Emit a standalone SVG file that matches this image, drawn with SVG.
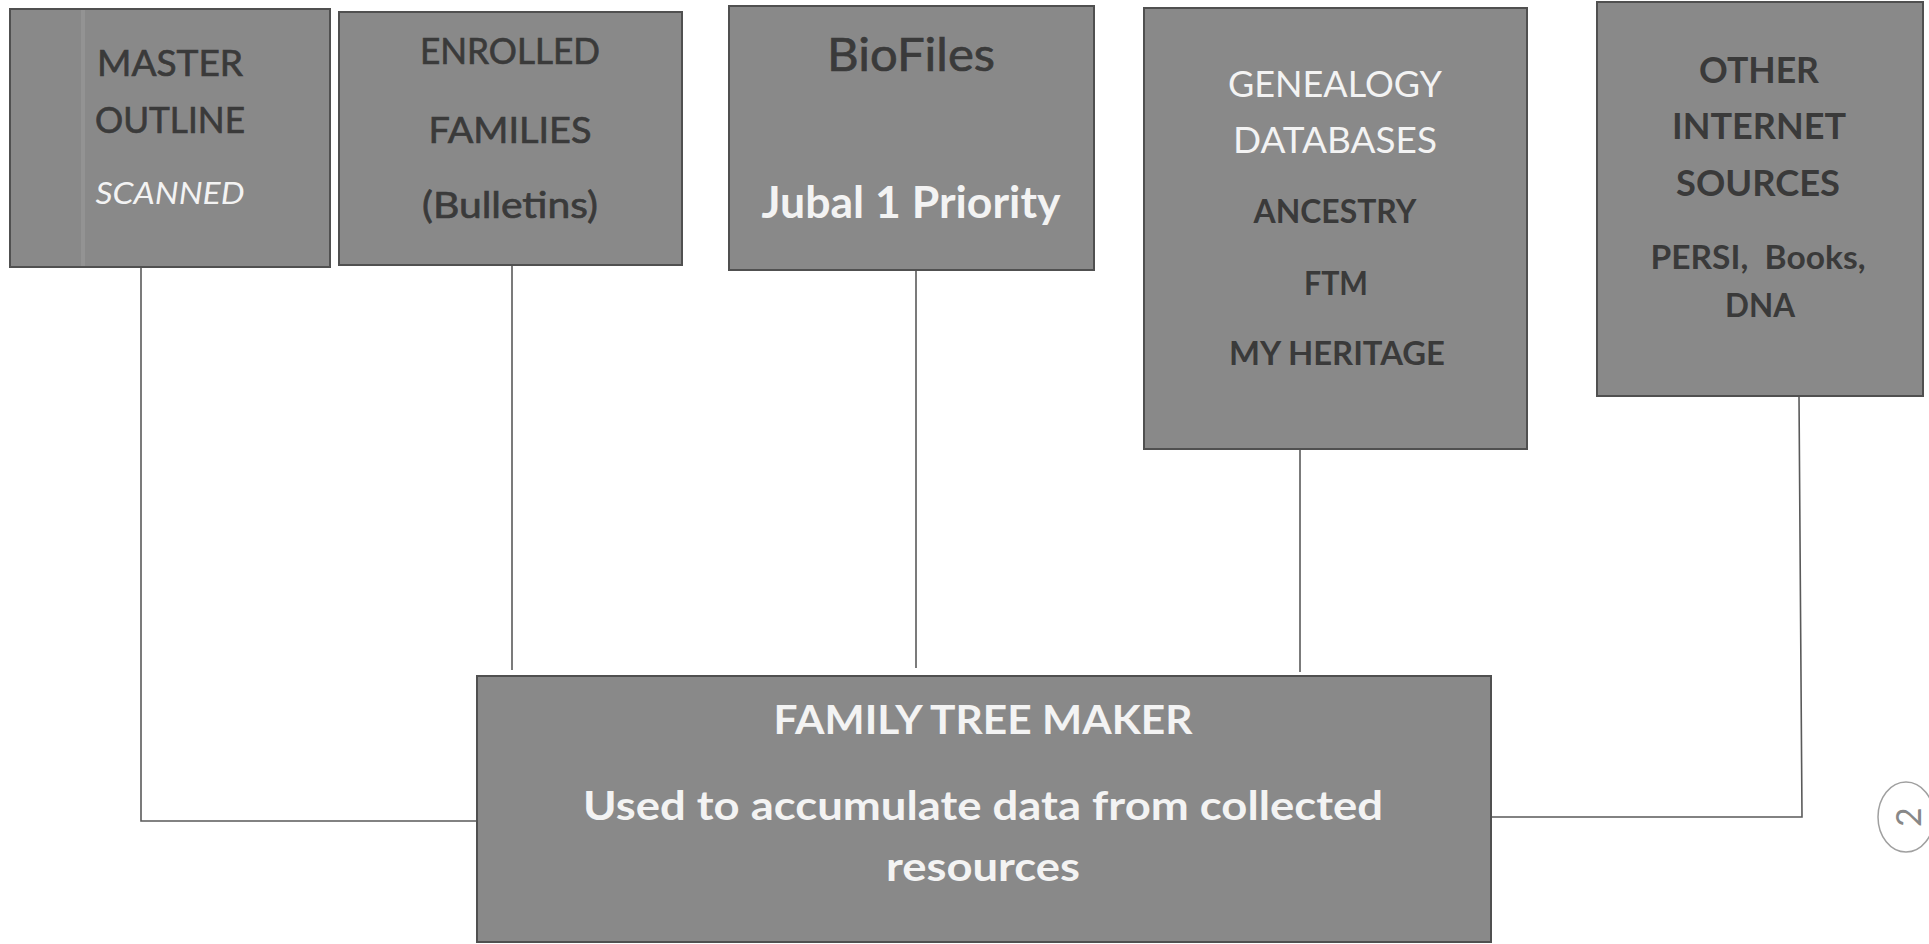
<svg xmlns="http://www.w3.org/2000/svg" width="1929" height="944" viewBox="0 0 1929 944">
<style>
.box{fill:#898989;stroke:#505050;stroke-width:2}
.t{font-family:Lato,"Open Sans","Liberation Sans",sans-serif;text-anchor:middle}
.dk{fill:#3a3a3a}
.rg{stroke:#3a3a3a;stroke-width:0.7}
.wt{fill:#f3f3f3}
.b{font-weight:bold}
.con{fill:none;stroke:#5a5a5a;stroke-width:1.6}
</style>
<rect width="1929" height="944" fill="#ffffff"/>
<g id="connectors">
<path class="con" d="M141 267 V821 H477"/>
<path class="con" d="M512 265 V670"/>
<path class="con" d="M916 270 V668"/>
<path class="con" d="M1300 449 V672"/>
<path class="con" d="M1799 396 L1802 817 H1492"/>
</g>
<g id="master-outline">
<rect class="box" x="10" y="9" width="320" height="258"/>
<rect x="81" y="10" width="4" height="256" fill="#999999" opacity="0.6"/>
<text class="t dk rg" x="170" y="76" font-size="37" textLength="146" lengthAdjust="spacingAndGlyphs">MASTER</text>
<text class="t dk rg" x="170" y="133" font-size="37" textLength="150" lengthAdjust="spacingAndGlyphs">OUTLINE</text>
<text class="t wt" x="170" y="204" font-size="30" font-style="italic" textLength="149" lengthAdjust="spacingAndGlyphs">SCANNED</text>
</g>
<g id="enrolled-families">
<rect class="box" x="339" y="12" width="343" height="253"/>
<text class="t dk rg" x="510" y="64" font-size="37" textLength="180" lengthAdjust="spacingAndGlyphs">ENROLLED</text>
<text class="t dk rg" x="510" y="143" font-size="37" textLength="163" lengthAdjust="spacingAndGlyphs">FAMILIES</text>
<text class="t dk rg" x="510" y="218" font-size="37" textLength="176" lengthAdjust="spacingAndGlyphs">(Bulletins)</text>
</g>
<g id="biofiles">
<rect class="box" x="729" y="6" width="365" height="264"/>
<text class="t dk rg" x="911" y="71" font-size="47" textLength="168" lengthAdjust="spacingAndGlyphs">BioFiles</text>
<text class="t wt b" x="911" y="218" font-size="43" textLength="299" lengthAdjust="spacingAndGlyphs">Jubal 1 Priority</text>
</g>
<g id="genealogy-databases">
<rect class="box" x="1144" y="8" width="383" height="441"/>
<text class="t wt" x="1335" y="97" font-size="36" textLength="214" lengthAdjust="spacingAndGlyphs">GENEALOGY</text>
<text class="t wt" x="1335" y="153" font-size="36" textLength="204" lengthAdjust="spacingAndGlyphs">DATABASES</text>
<text class="t dk b" x="1335" y="223" font-size="32" textLength="163" lengthAdjust="spacingAndGlyphs">ANCESTRY</text>
<text class="t dk b" x="1336" y="295" font-size="32" textLength="64" lengthAdjust="spacingAndGlyphs">FTM</text>
<text class="t dk b" x="1337" y="365" font-size="32" textLength="216" lengthAdjust="spacingAndGlyphs">MY HERITAGE</text>
</g>
<g id="other-internet-sources">
<rect class="box" x="1597" y="2" width="326" height="394"/>
<text class="t dk b" x="1759" y="83" font-size="37" textLength="120" lengthAdjust="spacingAndGlyphs">OTHER</text>
<text class="t dk b" x="1759" y="139" font-size="37" textLength="174" lengthAdjust="spacingAndGlyphs">INTERNET</text>
<text class="t dk b" x="1758" y="196" font-size="37" textLength="164" lengthAdjust="spacingAndGlyphs">SOURCES</text>
<text class="t dk b" x="1758" y="269" font-size="33" textLength="215" lengthAdjust="spacingAndGlyphs" xml:space="preserve">PERSI,  Books,</text>
<text class="t dk b" x="1760" y="317" font-size="33" textLength="70" lengthAdjust="spacingAndGlyphs">DNA</text>
</g>
<g id="family-tree-maker">
<rect class="box" x="477" y="676" width="1014" height="266"/>
<text class="t wt b" x="983" y="734" font-size="40" textLength="419" lengthAdjust="spacingAndGlyphs">FAMILY TREE MAKER</text>
<text class="t wt b" x="983" y="820" font-size="40" textLength="800" lengthAdjust="spacingAndGlyphs">Used to accumulate data from collected</text>
<text class="t wt b" x="983" y="881" font-size="40" textLength="194" lengthAdjust="spacingAndGlyphs">resources</text>
</g>
<g id="page-mark">
<ellipse cx="1906" cy="817" rx="28" ry="35" fill="none" stroke="#a0a0a0" stroke-width="1.5"/>
<text class="t" x="1910" y="828" font-size="34" fill="#888888" transform="rotate(-90 1910 817)">2</text>
</g>
</svg>
